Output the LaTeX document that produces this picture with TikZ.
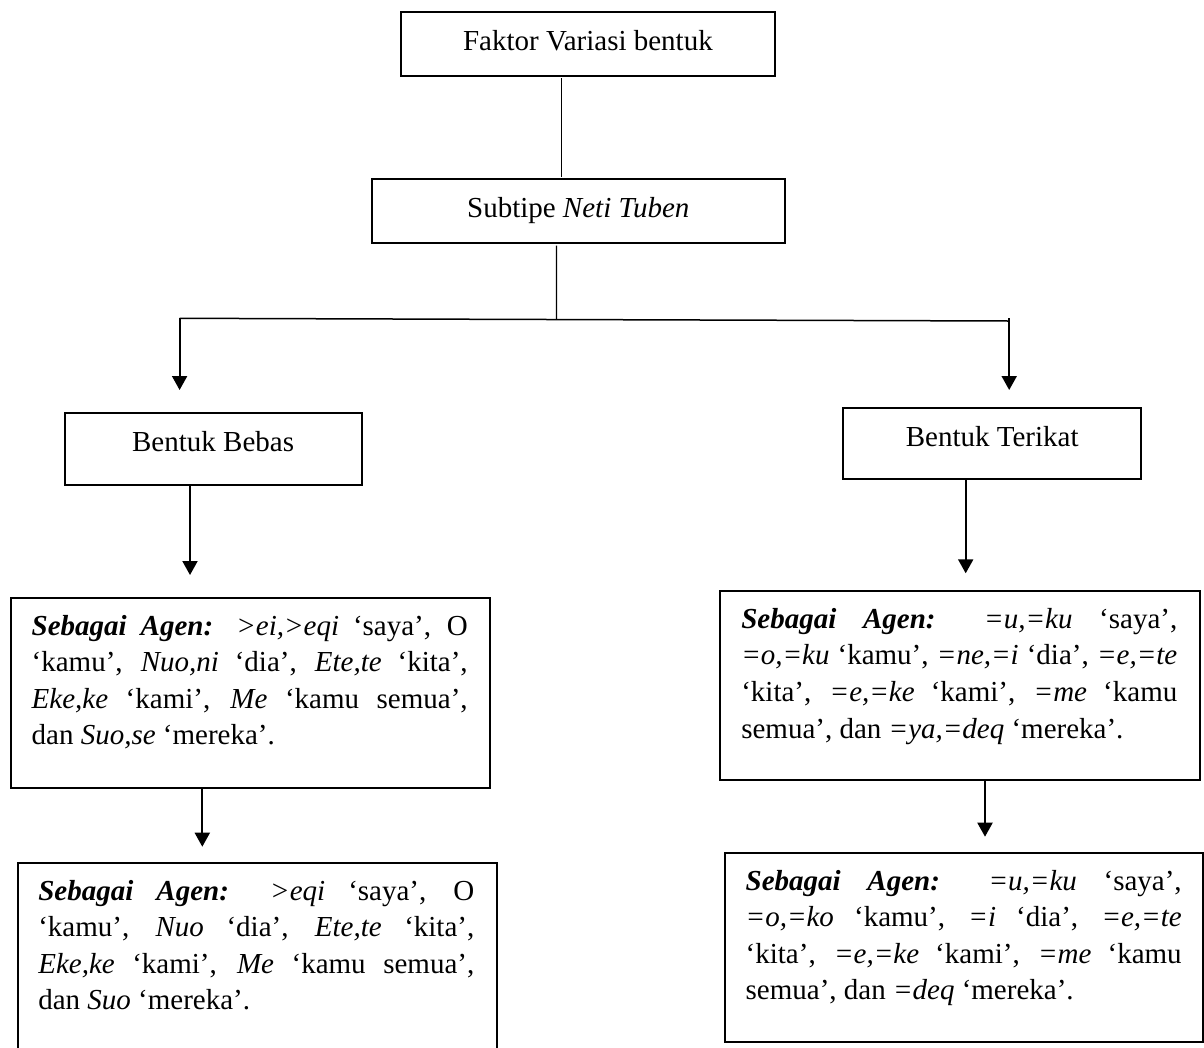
\documentclass[tikz,border=0pt]{standalone}
\usepackage{fontspec}
\setmainfont{Liberation Serif}
\usetikzlibrary{arrows.meta}
\newcommand\jline[1]{\hbox to 436pt{#1}}
\newcommand\lline[1]{\hbox{#1}}
\begin{document}
\begin{tikzpicture}[x=1pt,y=-1pt,
  font=\fontsize{29}{36.6}\selectfont,
  box/.style={draw, line width=2pt, inner sep=0pt, outer sep=0pt, anchor=north west},
  single/.style={text height=20pt, text depth=7pt},
  txt/.style={inner sep=0pt, outer sep=0pt, anchor=base west},
  thinln/.style={line width=1.2pt},
  hline/.style={line width=1.5pt},
  arr/.style={line width=2pt, -{Triangle[length=14pt,width=15pt]}}]
\useasboundingbox (0,0) rectangle (1204,1047);
\clip (0,0) rectangle (1204,1047);

% boxes
\node[box, single, minimum width=374.4pt, minimum height=64pt] (f) at (400.7,11.7) {Faktor Variasi bentuk};
\node[box, single, text depth=6pt, minimum width=413.6pt, minimum height=63.7pt] (s) at (371.5,179) {Subtipe \textit{Neti Tuben}};
\node[box, text height=20pt, text depth=15pt, minimum width=297.2pt, minimum height=71.7pt] (bb) at (64.5,413.3) {Bentuk Bebas};
\node[box, text height=20pt, text depth=14pt, minimum width=297.7pt, minimum height=71pt] (bt) at (843.3,408.3) {Bentuk Terikat};
\node[box, minimum width=479pt, minimum height=189.4pt] (l1) at (11,598.3) {};
\node[box, minimum width=479.6pt, minimum height=200pt] (l2) at (17.7,862.7) {};
\node[box, minimum width=480pt, minimum height=189pt] (r1) at (719.7,591) {};
\node[box, minimum width=478.3pt, minimum height=189.6pt] (r2) at (724.7,852.7) {};

% box texts
\node[txt] (l1t) at (31.7,635) {\vtop{%
  \jline{\textbf{\textit{Sebagai}} \textbf{\textit{Agen:}} \textit{>ei,>eqi} ‘saya’, O}
  \jline{‘kamu’, \textit{Nuo,ni} ‘dia’, \textit{Ete,te} ‘kita’,}
  \jline{\textit{Eke,ke} ‘kami’, \textit{Me} ‘kamu semua’,}
  \lline{dan \textit{Suo,se} ‘mereka’.}}};
\node[txt] (l2t) at (38.3,900) {\vtop{%
  \jline{\textbf{\textit{Sebagai}} \textbf{\textit{Agen:}} \textit{>eqi} ‘saya’, O}
  \jline{‘kamu’, \textit{Nuo} ‘dia’, \textit{Ete,te} ‘kita’,}
  \jline{\textit{Eke,ke} ‘kami’, \textit{Me} ‘kamu semua’,}
  \lline{dan \textit{Suo} ‘mereka’.}}};
\node[txt] (r1t) at (741.3,628.3) {\vtop{%
  \jline{\textbf{\textit{Sebagai}} \textbf{\textit{Agen:}} \textit{=u,=ku} ‘saya’,}
  \jline{\textit{=o,=ku} ‘kamu’, \textit{=ne,=i} ‘dia’, \textit{=e,=te}}
  \jline{‘kita’, \textit{=e,=ke} ‘kami’, \textit{=me} ‘kamu}
  \lline{semua’, dan \textit{=ya,=deq} ‘mereka’.}}};
\node[txt] (r2t) at (745.7,890) {\vtop{%
  \jline{\textbf{\textit{Sebagai}} \textbf{\textit{Agen:}} \textit{=u,=ku} ‘saya’,}
  \jline{\textit{=o,=ko} ‘kamu’, \textit{=i} ‘dia’, \textit{=e,=te}}
  \jline{‘kita’, \textit{=e,=ke} ‘kami’, \textit{=me} ‘kamu}
  \lline{semua’, dan \textit{=deq} ‘mereka’.}}};

% connectors
\draw[thinln, shorten <=2.5pt, shorten >=2pt] ([xshift=-26.2pt]f.south) -- ([xshift=-16.6pt]s.south |- s.north);
\coordinate (jm) at (556.4,319.5);
\coordinate (jl) at (179.6,318.3);
\coordinate (jr) at (1009.2,321);
\coordinate (jr2) at (1009.2,318.3);
\draw[thinln, shorten <=3pt] ([xshift=-21.9pt]s.south) -- (jm);
\draw[hline] (jl) -- (jr);
\draw[arr, shorten >=23.3pt] (jl) -- (jl |- bb.north);
\draw[arr, shorten >=18.3pt] (jr2) -- (jr2 |- bt.north);

\coordinate (a1) at ([xshift=-23.1pt]bb.south);
\coordinate (a2) at ([xshift=-26.45pt]bt.south);
\coordinate (a3) at ([xshift=-48.2pt]l1.south);
\coordinate (a4) at ([xshift=25.3pt]r1.south);
\draw[arr, shorten >=23.3pt] (a1) -- (a1 |- l1.north);
\draw[arr, shorten >=17.7pt] (a2) -- (a2 |- r1.north);
\draw[arr, shorten >=16pt] (a3) -- (a3 |- l2.north);
\draw[arr, shorten >=16pt] (a4) -- (a4 |- r2.north);
\end{tikzpicture}
\end{document}
